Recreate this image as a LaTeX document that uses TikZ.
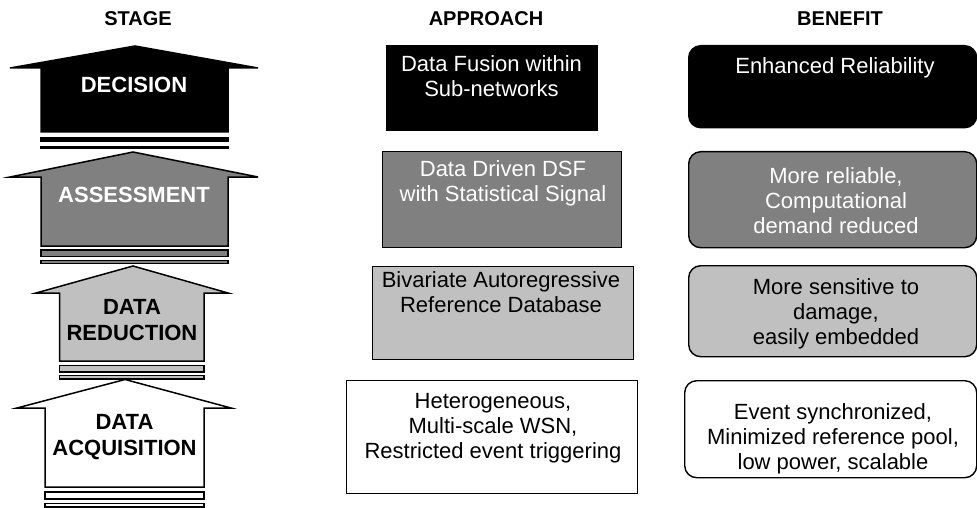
\documentclass[tikz,border=0pt]{standalone}
\usepackage{fontspec}
\setmainfont{Liberation Sans}
\definecolor{midgray}{HTML}{808080}
\definecolor{lightgray}{HTML}{C0C0C0}
\tikzset{
  arrowshape/.style={draw=black, line width=1.5pt, line join=miter},
  barshape/.style={draw=black, line width=1.2pt},
  stagetext/.style={font=\fontsize{22}{26.5}\selectfont\bfseries, align=center, inner sep=0pt},
  headtext/.style={font=\fontsize{20}{22}\selectfont\bfseries, inner sep=0pt},
  apbox/.style={draw=black, line width=1.4pt, anchor=north west, inner sep=0pt},
  bfbox/.style={draw=black, line width=1.4pt, anchor=north west, inner sep=0pt, rounded corners=12pt},
  bodytext/.style={font=\fontsize{22}{25}\selectfont, align=center, inner sep=0pt},
}
\begin{document}
\begin{tikzpicture}[x=1pt,y=-1pt]
\useasboundingbox (0,0) rectangle (977,508);

% headers
\node[headtext] (hstage) at (138,18.5) {STAGE};
\node[headtext] (happr) at (486,18.5) {APPROACH};
\node[headtext] (hben) at (840,18.5) {BENEFIT};

% ---- stage arrows ----
% decision
\draw[arrowshape, fill=black] (135,46) -- (258,68) -- (228,68) -- (228,132) -- (41,132) -- (41,68) -- (10,68) -- cycle;
\draw[barshape, fill=black] (41,137.5) rectangle (228,141.5);
\draw[barshape, fill=black] (41,147) rectangle (228,148);
\node[stagetext, text=white] (sdec) at (134,85) {DECISION};

% assessment
\draw[arrowshape, fill=midgray] (133,152) -- (258,177) -- (228,177) -- (228,246) -- (41,246) -- (41,177) -- (10,177) -- cycle;
\draw[barshape, fill=midgray] (41,250) rectangle (228,256.5);
\draw[barshape, fill=midgray] (41,260.5) rectangle (228,263.5);
\node[stagetext, text=white] (sass) at (134,195) {ASSESSMENT};

% data reduction
\draw[arrowshape, fill=lightgray] (133,266) -- (228,293) -- (204,293) -- (204,361) -- (59.5,361) -- (59.5,293) -- (36,293) -- cycle;
\draw[barshape, fill=lightgray] (59.5,365.5) rectangle (204,372);
\draw[barshape, fill=lightgray] (59.5,375.5) rectangle (204,379);
\node[stagetext, text=black] (sred) at (132,320) {DATA\\REDUCTION};

% data acquisition
\draw[arrowshape, fill=white] (125,379.5) -- (231,408) -- (204,408) -- (204,487) -- (45,487) -- (45,408) -- (17,408) -- cycle;
\draw[barshape, fill=white] (45,492) rectangle (204,499);
\draw[barshape, fill=white] (45,503.5) rectangle (204,507);
\node[stagetext, text=black] (sacq) at (124.5,437) {DATA\\ACQUISITION};

% ---- approach boxes ----
\node[apbox, fill=black, minimum width=211pt, minimum height=85pt] (a1) at (386,45) {};
\node[bodytext, text=white] (a1t) at (491.5,76) {Data Fusion within\\Sub-networks};

\node[apbox, fill=midgray, minimum width=239pt, minimum height=96pt] (a2) at (382,151) {};
\node[bodytext, text=white] (a2t) at (503,183) {Data Driven DSF\\with Statistical Signal};

\node[apbox, fill=lightgray, minimum width=261pt, minimum height=93pt] (a3) at (372,266) {};
\node[bodytext, text=black] (a3t) at (501,292) {Bivariate Autoregressive\\Reference Database};

\node[apbox, fill=white, minimum width=291pt, minimum height=113pt] (a4) at (346,380) {};
\node[bodytext, text=black] (a4t) at (493,428.5) {Heterogeneous,\\Multi-scale WSN,\\Restricted event triggering};

% ---- benefit boxes ----
\node[bfbox, fill=black, minimum width=288pt, minimum height=82pt] (b1) at (688,45) {};
\node[bodytext, text=white] (b1t) at (835,68) {Enhanced Reliability};

\node[bfbox, fill=midgray, minimum width=288pt, minimum height=96pt] (b2) at (688,151) {};
\node[bodytext, text=white] (b2t) at (836,201) {More reliable,\\Computational\\demand reduced};

\node[bfbox, fill=lightgray, minimum width=288pt, minimum height=91pt] (b3) at (688,265) {};
\node[bodytext, text=black] (b3t) at (836,314) {More sensitive to\\damage,\\easily embedded};

\node[bfbox, fill=white, minimum width=292pt, minimum height=97pt] (b4) at (684,380) {};
\node[bodytext, text=black] (b4t) at (833,438.5) {Event synchronized,\\Minimized reference pool,\\low power, scalable};
\end{tikzpicture}
\end{document}
